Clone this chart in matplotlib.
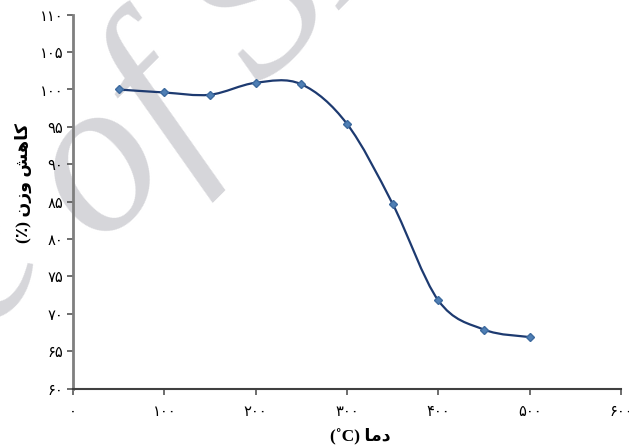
import numpy as np
import matplotlib.pyplot as plt
from matplotlib.path import Path
from matplotlib.patches import PathPatch

# data
temps = [50, 100, 150, 200, 250, 300, 350, 400, 450, 500]
weight = [100.0, 99.6, 99.3, 100.9, 100.7, 95.4, 84.7, 71.8, 67.9, 66.9]

x_ticks = [0, 100, 200, 300, 400, 500, 600]
y_ticks = [60, 65, 70, 75, 80, 85, 90, 95, 100, 105, 110]

# persian digits
FA = str.maketrans('0123456789', '\u06f0\u06f1\u06f2\u06f3\u06f4\u06f5\u06f6\u06f7\u06f8\u06f9')
x_labels = [str(v).translate(FA) for v in x_ticks]
y_labels = [str(v).translate(FA) for v in y_ticks]

# labels in visual order (presentation forms, since matplotlib does no shaping)
ylabel = '(\u066a) \ufee5\ufeaf\ufeed \ufeb6\ufeeb\ufe8e\ufb90'   # کاهش وزن (٪)
xlabel = '(\u02daC) \ufe8e\ufee3\ufea9'                          # دما (°C)


def smooth_path(xs, ys):
    # excel-like smoothed line: bezier segments with catmull-rom control points
    pts = np.column_stack([xs, ys]).astype(float)
    verts = [pts[0]]
    codes = [Path.MOVETO]
    n = len(pts)
    for i in range(n - 1):
        p0 = pts[max(i - 1, 0)]
        p1 = pts[i]
        p2 = pts[i + 1]
        p3 = pts[min(i + 2, n - 1)]
        c1 = p1 + (p2 - p0) / 6.0
        c2 = p2 - (p3 - p1) / 6.0
        verts += [c1, c2, p2]
        codes += [Path.CURVE4] * 3
    return Path(verts, codes)


def main():
    fig = plt.figure(figsize=(6.29, 4.48), dpi=100)
    W, H = 629, 448

    # faint watermark behind the chart
    wm = dict(fontsize=160, color='#d6d6da', rotation=45, rotation_mode='anchor',
              fontfamily='Liberation Serif', fontstyle='italic',
              va='baseline', zorder=-5)
    fig.text(58 / W, 1 - 274 / H, 'Archive', ha='right', **wm)
    fig.text(100 / W, 1 - 250 / H, 'of SID', ha='left', **wm)

    ax = fig.add_axes([73 / W, 1 - 388.7 / H, 548 / W, 374 / H])
    ax.patch.set_alpha(0)

    ax.add_patch(PathPatch(smooth_path(temps, weight), facecolor='none',
                           edgecolor='#1d3a70', linewidth=1.6, zorder=3))
    ax.plot(temps, weight, linestyle='none', marker='D', markersize=4.5,
            color='#4f7fb5', markeredgecolor='#3d6a9e', zorder=4)

    ax.set_xlim(0, 600)
    ax.set_ylim(60, 110)
    ax.set_xticks(x_ticks)
    ax.set_xticklabels(x_labels)
    ax.set_yticks(y_ticks)
    ax.set_yticklabels(y_labels)

    for side in ['top', 'right']:
        ax.spines[side].set_visible(False)
    ax.spines['left'].set_color('#7f7f7f')
    ax.spines['left'].set_linewidth(2)
    ax.spines['bottom'].set_color('#404040')
    ax.spines['bottom'].set_linewidth(1.5)
    ax.tick_params(axis='y', length=4, width=1.2, color='#555555', pad=3,
                   labelsize=10.5)
    ax.tick_params(axis='x', length=4, width=1.2, color='#555555', pad=7,
                   labelsize=10.5)
    for lab in ax.get_xticklabels() + ax.get_yticklabels():
        lab.set_family('DejaVu Sans')

    ax.set_xlabel(xlabel, family=['Liberation Serif', 'DejaVu Sans'],
                  fontweight='bold', fontsize=12.5)
    ax.xaxis.set_label_coords(0.524, -0.105)
    ax.set_ylabel(ylabel, family=['Liberation Serif', 'DejaVu Sans'],
                  fontweight='bold', fontsize=12.5)
    ax.yaxis.set_label_coords(-0.075, 0.55)

    fig.savefig('out.png', dpi=100)


if __name__ == '__main__':
    main()
